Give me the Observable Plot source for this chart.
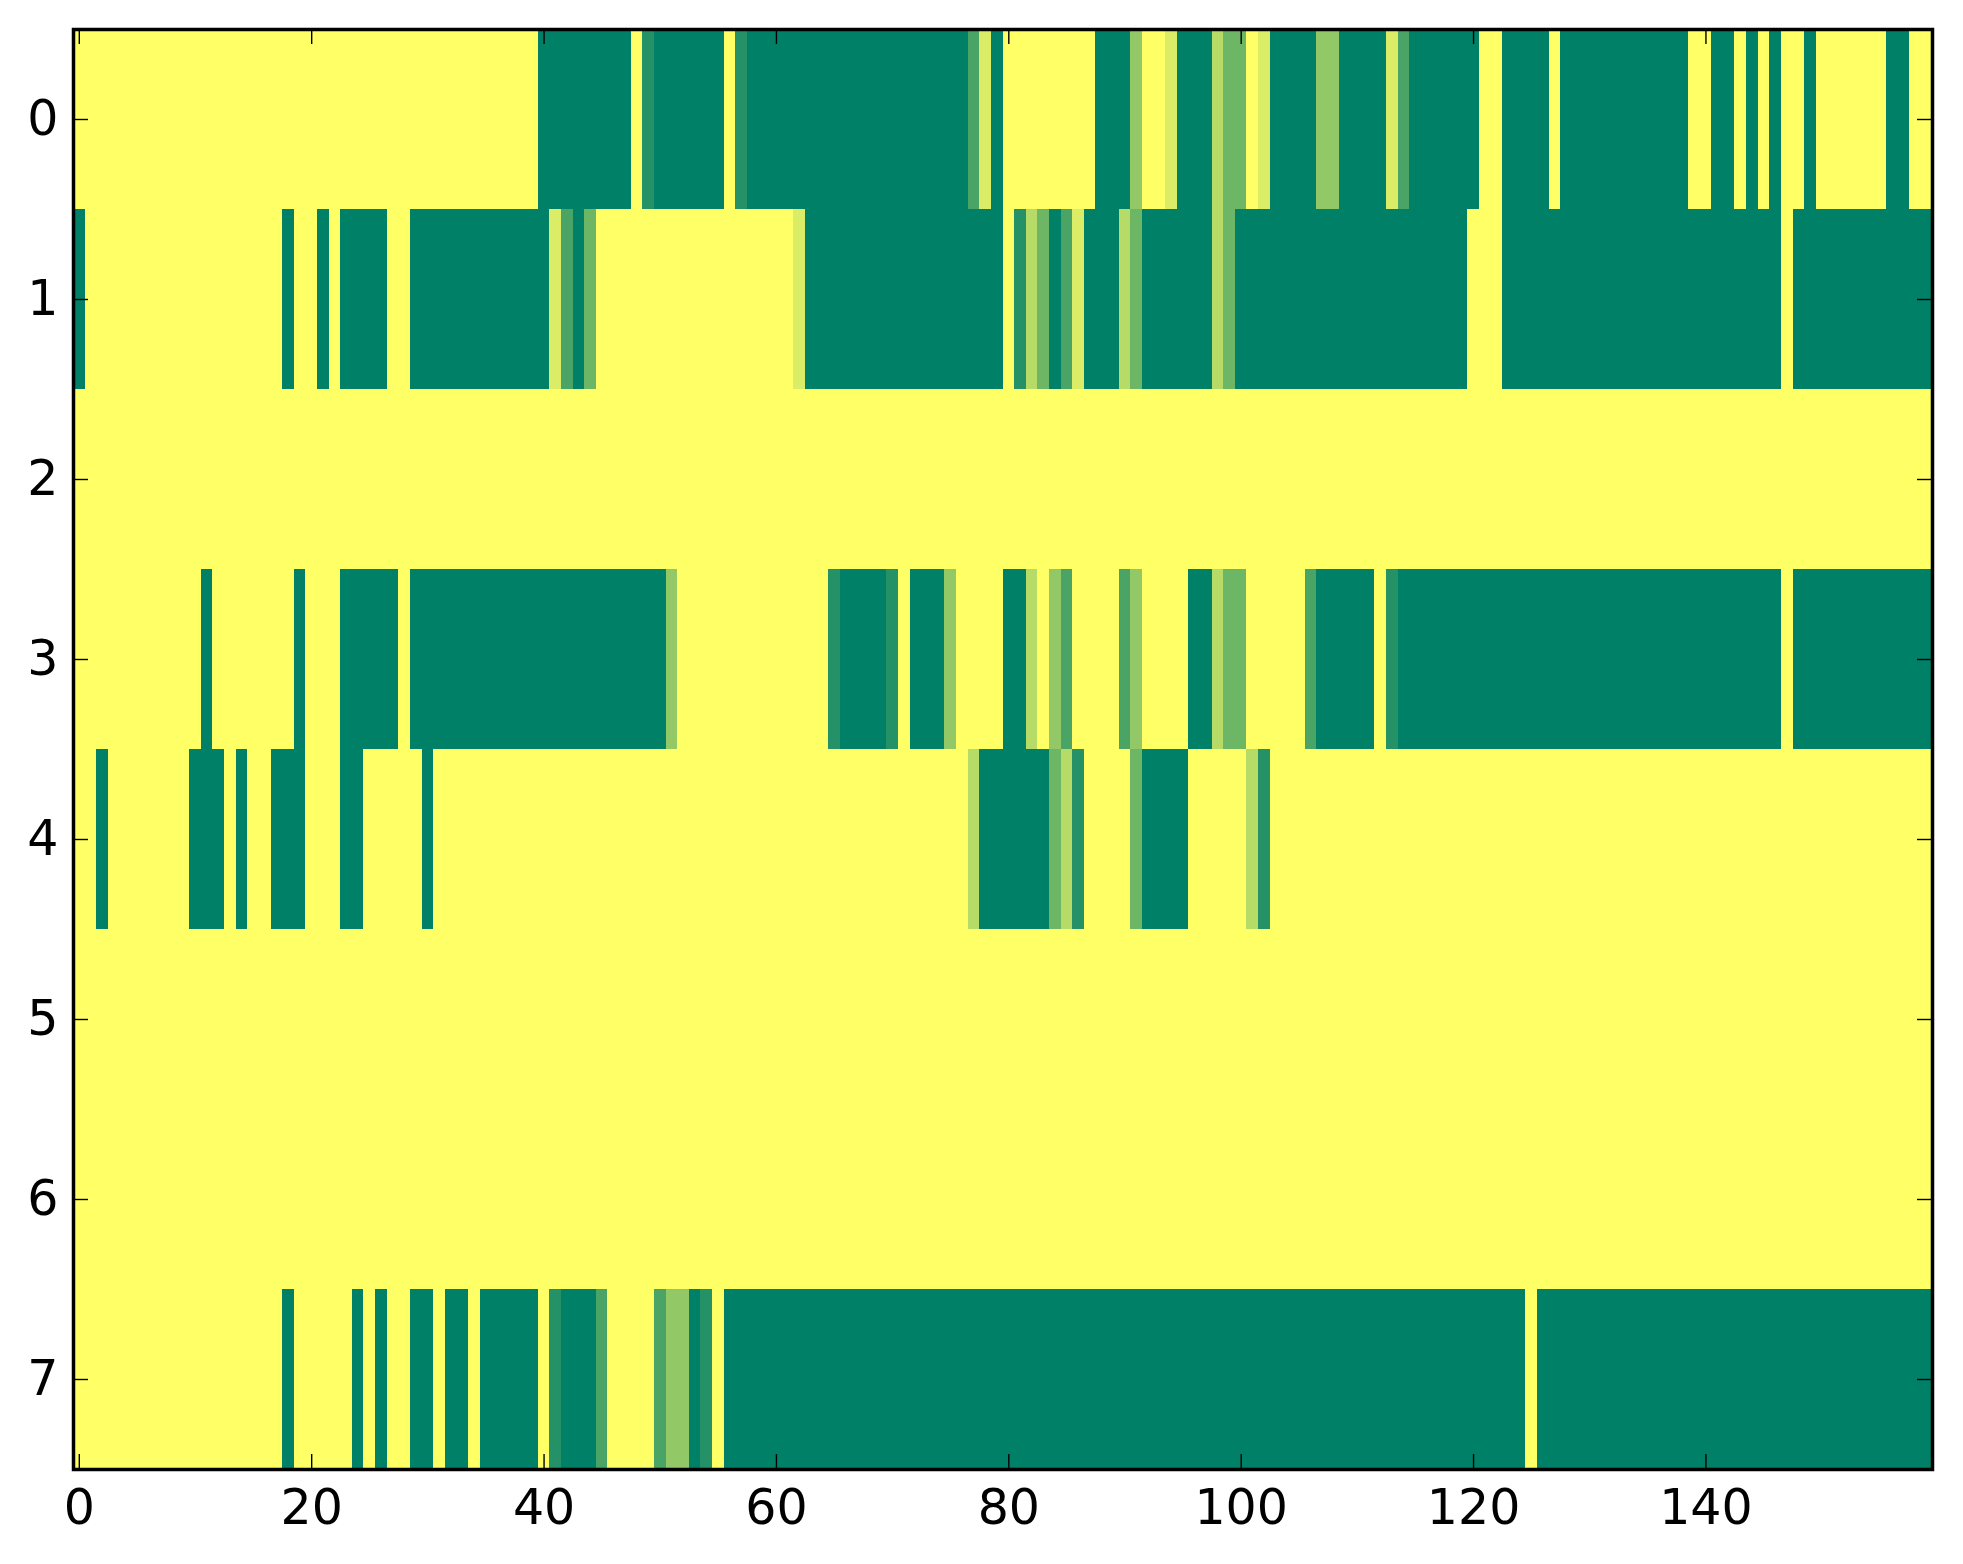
<!DOCTYPE html>
<html>
<head>
<meta charset="utf-8">
<script src="https://cdn.jsdelivr.net/npm/d3@7"></script>
<script src="https://cdn.jsdelivr.net/npm/@observablehq/plot@0.6"></script>
<style>
  html, body { margin: 0; padding: 0; background: #fff; }
  #chart { width: 1963px; height: 1564px; }
</style>
</head>
<body>
<div id="chart"></div>
<script>
// Cell values in sevenths (0 = yellow, 7 = dark green), 160 columns per row
const row0 = [
  0,0,0,0,0,0,0,0,0,0, 0,0,0,0,0,0,0,0,0,0, 0,0,0,0,0,0,0,0,0,0, 0,0,0,0,0,0,0,0,0,0,
  7,7,7,7,7,7,7,7,0,6, 7,7,7,7,7,7,0,6,7,7, 7,7,7,7,7,7,7,7,7,7, 7,7,7,7,7,7,7,5,1,7,
  0,0,0,0,0,0,0,0,7,7, 7,3,0,0,1,7,7,7,2,4, 4,0,1,7,7,7,7,3,3,7, 7,7,7,1,5,7,7,7,7,7,
  7,0,0,7,7,7,7,0,7,7, 7,7,7,7,7,7,7,7,7,0, 0,7,7,0,7,0,7,0,0,7, 0,0,0,0,0,0,7,7,0,0
];
const row1 = [
  7,0,0,0,0,0,0,0,0,0, 0,0,0,0,0,0,0,0,7,0, 0,7,0,7,7,7,7,0,0,7, 7,7,7,7,7,7,7,7,7,7,
  7,1,5,7,4,0,0,0,0,0, 0,0,0,0,0,0,0,0,0,0, 0,0,1,7,7,7,7,7,7,7, 7,7,7,7,7,7,7,7,7,7,
  0,6,2,4,7,5,1,7,7,7, 2,4,7,7,7,7,7,7,2,4, 7,7,7,7,7,7,7,7,7,7, 7,7,7,7,7,7,7,7,7,7,
  0,0,0,7,7,7,7,7,7,7, 7,7,7,7,7,7,7,7,7,7, 7,7,7,7,7,7,7,0,7,7, 7,7,7,7,7,7,7,7,7,7
];
const row2 = [
  0,0,0,0,0,0,0,0,0,0, 0,0,0,0,0,0,0,0,0,0, 0,0,0,0,0,0,0,0,0,0, 0,0,0,0,0,0,0,0,0,0,
  0,0,0,0,0,0,0,0,0,0, 0,0,0,0,0,0,0,0,0,0, 0,0,0,0,0,0,0,0,0,0, 0,0,0,0,0,0,0,0,0,0,
  0,0,0,0,0,0,0,0,0,0, 0,0,0,0,0,0,0,0,0,0, 0,0,0,0,0,0,0,0,0,0, 0,0,0,0,0,0,0,0,0,0,
  0,0,0,0,0,0,0,0,0,0, 0,0,0,0,0,0,0,0,0,0, 0,0,0,0,0,0,0,0,0,0, 0,0,0,0,0,0,0,0,0,0
];
const row3 = [
  0,0,0,0,0,0,0,0,0,0, 0,7,0,0,0,0,0,0,0,7, 0,0,0,7,7,7,7,7,0,7, 7,7,7,7,7,7,7,7,7,7,
  7,7,7,7,7,7,7,7,7,7, 7,3,0,0,0,0,0,0,0,0, 0,0,0,0,0,6,7,7,7,7, 6,0,7,7,7,3,0,0,0,0,
  7,7,2,0,3,5,0,0,0,0, 5,3,0,0,0,0,7,7,2,4, 4,0,0,0,0,0,5,7,7,7, 7,7,0,6,7,7,7,7,7,7,
  7,7,7,7,7,7,7,7,7,7, 7,7,7,7,7,7,7,7,7,7, 7,7,7,7,7,7,7,0,7,7, 7,7,7,7,7,7,7,7,7,7
];
const row4 = [
  0,0,7,0,0,0,0,0,0,0, 7,7,7,0,7,0,0,7,7,7, 0,0,0,7,7,0,0,0,0,0, 7,0,0,0,0,0,0,0,0,0,
  0,0,0,0,0,0,0,0,0,0, 0,0,0,0,0,0,0,0,0,0, 0,0,0,0,0,0,0,0,0,0, 0,0,0,0,0,0,0,2,7,7,
  7,7,7,7,4,2,6,0,0,0, 0,4,7,7,7,7,0,0,0,0, 0,2,6,0,0,0,0,0,0,0, 0,0,0,0,0,0,0,0,0,0,
  0,0,0,0,0,0,0,0,0,0, 0,0,0,0,0,0,0,0,0,0, 0,0,0,0,0,0,0,0,0,0, 0,0,0,0,0,0,0,0,0,0
];
const row5 = [
  0,0,0,0,0,0,0,0,0,0, 0,0,0,0,0,0,0,0,0,0, 0,0,0,0,0,0,0,0,0,0, 0,0,0,0,0,0,0,0,0,0,
  0,0,0,0,0,0,0,0,0,0, 0,0,0,0,0,0,0,0,0,0, 0,0,0,0,0,0,0,0,0,0, 0,0,0,0,0,0,0,0,0,0,
  0,0,0,0,0,0,0,0,0,0, 0,0,0,0,0,0,0,0,0,0, 0,0,0,0,0,0,0,0,0,0, 0,0,0,0,0,0,0,0,0,0,
  0,0,0,0,0,0,0,0,0,0, 0,0,0,0,0,0,0,0,0,0, 0,0,0,0,0,0,0,0,0,0, 0,0,0,0,0,0,0,0,0,0
];
const row6 = [
  0,0,0,0,0,0,0,0,0,0, 0,0,0,0,0,0,0,0,0,0, 0,0,0,0,0,0,0,0,0,0, 0,0,0,0,0,0,0,0,0,0,
  0,0,0,0,0,0,0,0,0,0, 0,0,0,0,0,0,0,0,0,0, 0,0,0,0,0,0,0,0,0,0, 0,0,0,0,0,0,0,0,0,0,
  0,0,0,0,0,0,0,0,0,0, 0,0,0,0,0,0,0,0,0,0, 0,0,0,0,0,0,0,0,0,0, 0,0,0,0,0,0,0,0,0,0,
  0,0,0,0,0,0,0,0,0,0, 0,0,0,0,0,0,0,0,0,0, 0,0,0,0,0,0,0,0,0,0, 0,0,0,0,0,0,0,0,0,0
];
const row7 = [
  0,0,0,0,0,0,0,0,0,0, 0,0,0,0,0,0,0,0,7,0, 0,0,0,0,7,0,7,0,0,7, 7,0,7,7,0,7,7,7,7,7,
  0,6,7,7,7,5,0,0,0,0, 5,3,3,7,6,0,7,7,7,7, 7,7,7,7,7,7,7,7,7,7, 7,7,7,7,7,7,7,7,7,7,
  7,7,7,7,7,7,7,7,7,7, 7,7,7,7,7,7,7,7,7,7, 7,7,7,7,7,7,7,7,7,7, 7,7,7,7,7,7,7,7,7,7,
  7,7,7,7,7,0,7,7,7,7, 7,7,7,7,7,7,7,7,7,7, 7,7,7,7,7,7,7,7,7,7, 7,7,7,7,7,7,7,7,7,7
];
const rows = [row0, row1, row2, row3, row4, row5, row6, row7];
const xTicks = [0, 20, 40, 60, 80, 100, 120, 140];
const yTicks = [0, 1, 2, 3, 4, 5, 6, 7];

const table = [];
rows.forEach((r, ri) => r.forEach((k, ci) => table.push({row: ri, col: ci, v: k / 7})));

const W = 1963, H = 1564;
const mL = 73, mR = 31, mT = 29, mB = 95;
const plotW = W - mL - mR, plotH = H - mT - mB;
const tick = 15;
const intFmt = d => String(d);

const chart = Plot.plot({
  width: W,
  height: H,
  marginLeft: mL, marginRight: mR, marginTop: mT, marginBottom: mB,
  style: {fontFamily: "DejaVu Sans", fontSize: "49px", background: "white", color: "black"},
  x: {type: "linear", domain: [-0.5, 159.5], label: null},
  y: {type: "linear", domain: [-0.5, 7.5], reverse: true, label: null},
  color: {type: "linear", domain: [0, 1], range: ["#ffff66", "#008066"], interpolate: "rgb"},
  marks: [
    Plot.rect(table, {
      x1: d => d.col - 0.5, x2: d => d.col + 0.5,
      y1: d => d.row - 0.5, y2: d => d.row + 0.5,
      fill: "v", shapeRendering: "crispEdges"
    }),
    Plot.tickX(xTicks, {x: d => d, insetTop: plotH - tick, stroke: "black", strokeWidth: 1.4}),
    Plot.tickX(xTicks, {x: d => d, insetBottom: plotH - tick, stroke: "black", strokeWidth: 1.4}),
    Plot.tickY(yTicks, {y: d => d, insetRight: plotW - tick, stroke: "black", strokeWidth: 1.4}),
    Plot.tickY(yTicks, {y: d => d, insetLeft: plotW - tick, stroke: "black", strokeWidth: 1.4}),
    Plot.axisX(xTicks, {anchor: "bottom", tickSize: 0, tickPadding: 20, fontSize: 49, label: null, tickFormat: intFmt}),
    Plot.axisY(yTicks, {anchor: "left", tickSize: 0, tickPadding: 15, fontSize: 49, label: null, tickFormat: intFmt}),
    Plot.frame({stroke: "black", strokeWidth: 3.5})
  ]
});
document.getElementById("chart").appendChild(chart);
</script>
</body>
</html>
